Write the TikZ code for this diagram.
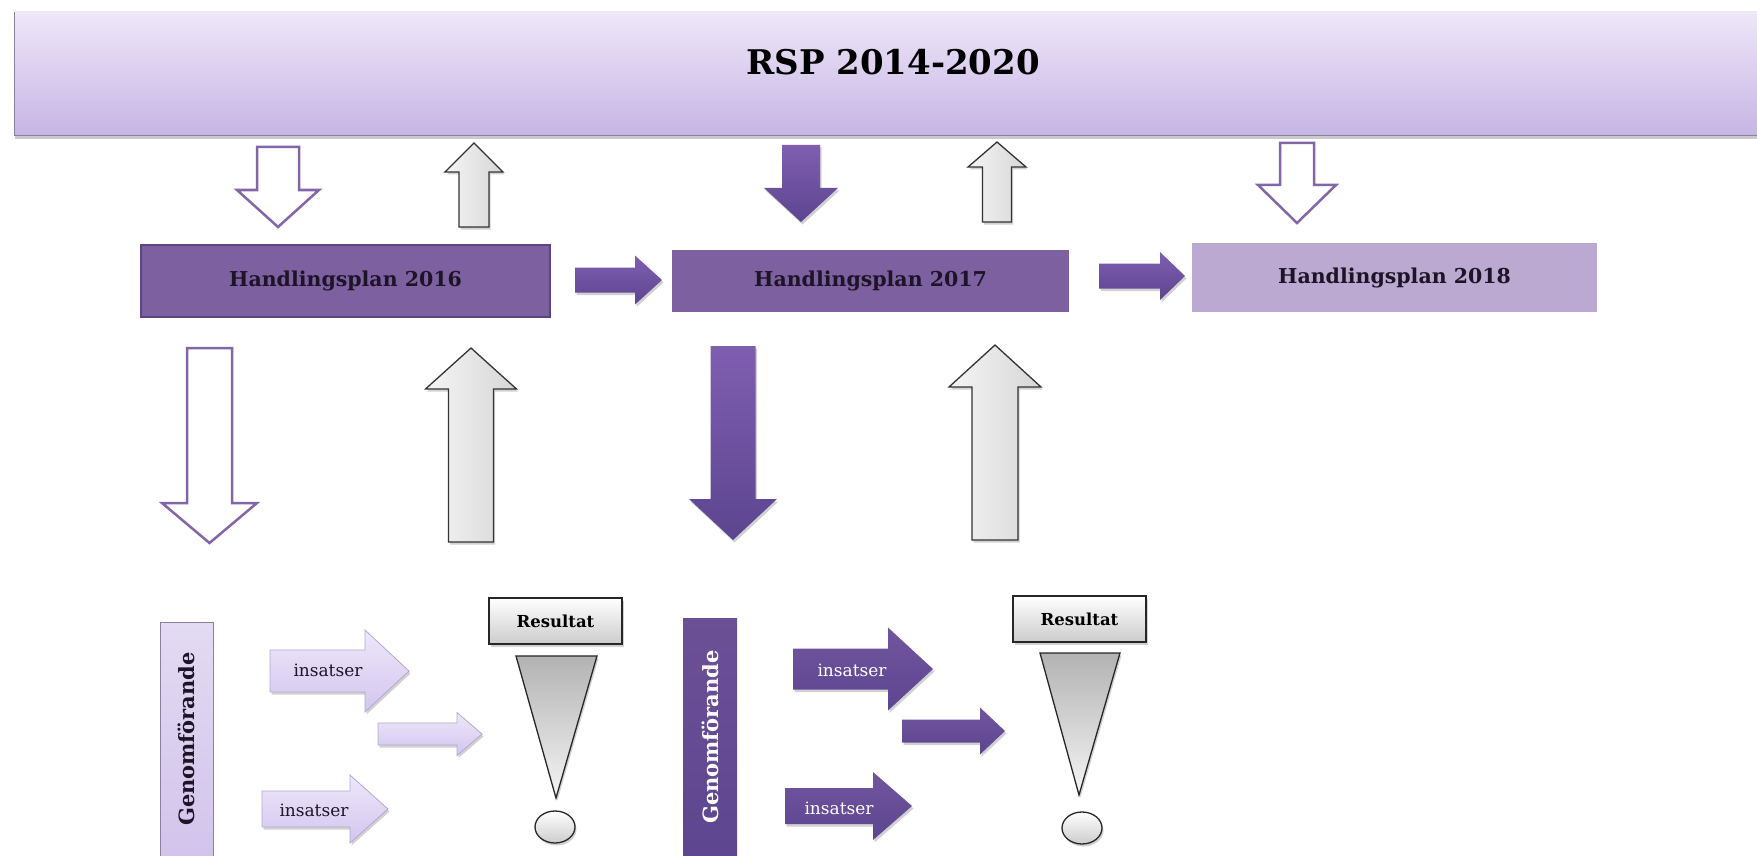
\documentclass[tikz,border=0pt]{standalone}
\usepackage{fontspec}
\setmainfont{DejaVu Serif}
\usetikzlibrary{shadows}

\definecolor{bannertop}{HTML}{EEE7F8}
\definecolor{bannerbot}{HTML}{C7B5E5}
\definecolor{banneredge}{HTML}{8C80A0}
\definecolor{planfill}{HTML}{7C60A0}
\definecolor{planedge}{HTML}{5A4484}
\definecolor{planlight}{HTML}{BBA9D1}
\definecolor{plantext}{HTML}{1E1428}
\definecolor{outline}{HTML}{8266A8}
\definecolor{purptop}{HTML}{7F5EB0}
\definecolor{purpbot}{HTML}{5C4590}
\definecolor{lilatop}{HTML}{EEE7FA}
\definecolor{lilabot}{HTML}{D3C5EE}
\definecolor{lilaedge}{HTML}{B5A6CF}
\definecolor{gentop}{HTML}{E3DAF3}
\definecolor{genbot}{HTML}{D0C2EA}

% block arrows: [style]{x}{y tail}{y head base}{y tip}{shaft}{head}
\newcommand{\varrow}[7][]{%
  \draw[#1] ({#2-#6/2},#3) -- ({#2-#6/2},#4) -- ({#2-#7/2},#4) -- (#2,#5)
    -- ({#2+#7/2},#4) -- ({#2+#6/2},#4) -- ({#2+#6/2},#3) -- cycle;}
% [style]{y}{x tail}{x head base}{x tip}{shaft}{head}
\newcommand{\harrow}[7][]{%
  \draw[#1] (#3,{#2-#6/2}) -- (#4,{#2-#6/2}) -- (#4,{#2-#7/2}) -- (#5,#2)
    -- (#4,{#2+#7/2}) -- (#4,{#2+#6/2}) -- (#3,{#2+#6/2}) -- cycle;}

\begin{document}
\begin{tikzpicture}[x=1pt,y=-1pt,
    softshadow/.style={drop shadow={shadow xshift=1.5pt,shadow yshift=-2.5pt,opacity=.3,fill=black!60}},
    plan/.style={inner sep=0pt,font=\bfseries\fontsize{20.5}{24}\selectfont,text=plantext},
    outarrow/.style={draw=outline,line width=2.5pt,fill=white},
    greyarrow/.style={draw=black!80,line width=1.3pt,left color=gray!8,right color=gray!32,softshadow},
    purparrow/.style={top color=purptop,bottom color=purpbot,draw=none,softshadow},
    lightarrow/.style={top color=lilatop,bottom color=lilabot,draw=lilaedge,line width=.8pt,softshadow},
    darkarrow/.style={top color=purptop!90!black,bottom color=purpbot,draw=none,softshadow},
    grey3d/.style={top color=white,bottom color=gray!40,draw=black!85,line width=1.3pt,softshadow},
    result/.style={grey3d,inner sep=0pt,minimum width=133pt,minimum height=46pt,font=\bfseries\fontsize{16.5}{20}\selectfont},
    ins/.style={inner sep=0pt,font=\fontsize{17}{20}\selectfont},
    gentext/.style={rotate=90,inner sep=0pt,font=\bfseries\fontsize{21}{24}\selectfont}]
  \useasboundingbox (0,0) rectangle (1757,856);

  % RSP banner
  \node[top color=bannertop,bottom color=bannerbot,minimum width=1755pt,minimum height=123pt,
        drop shadow={shadow xshift=0pt,shadow yshift=-4pt,opacity=.35,fill=black!60}] (rsp) at (892.5,73.5) {};
  \draw[banneredge,line width=1.3pt] (rsp.north west) -- (rsp.south west) -- (rsp.south east);
  \node[font=\bfseries\fontsize{34}{38}\selectfont] (rsptext) at (893,62) {RSP 2014-2020};

  % handlingsplaner
  \node[plan,fill=planfill,draw=planedge,line width=1.5pt,minimum width=409pt,minimum height=72pt] (plan16) at (345.5,281) {Handlingsplan 2016};
  \node[plan,fill=planfill,draw=white,line width=6pt,minimum width=403pt,minimum height=68pt,
        drop shadow={shadow xshift=2pt,shadow yshift=-3pt,opacity=.4,fill=black!50}] (plan17) at (870.5,281) {Handlingsplan 2017};
  \node[plan,fill=planlight,minimum width=405pt,minimum height=69pt] (plan18) at (1394.5,277.5) {Handlingsplan 2018};

  % arrows to and from the banner
  \varrow[outarrow]{278}{147}{190}{227}{42}{82}
  \varrow[greyarrow]{474}{227}{172}{143}{30}{58}
  \varrow[purparrow]{801}{145}{188}{222}{38}{74}
  \varrow[greyarrow]{997}{222}{167}{142}{29}{58}
  \varrow[outarrow]{1297}{143}{185}{223}{34}{78}

  % plan to plan
  \harrow[purparrow]{280}{575}{635}{662}{25}{49}
  \harrow[purparrow]{276}{1099}{1160}{1185}{25}{48}

  % arrows down to the work and back up
  \varrow[outarrow]{209.5}{348}{503}{543}{45}{95}
  \varrow[greyarrow]{471}{542}{389}{348}{45}{91}
  \varrow[purparrow]{733}{346}{499}{540}{45}{88}
  \varrow[greyarrow]{995}{540}{387}{345}{46}{92}

  % genomforande 2016
  \node[top color=gentop,bottom color=genbot,draw=banneredge,line width=1pt,minimum width=53pt,minimum height=258pt] (gen1) at (186.5,751) {};
  \node[gentext,text=plantext] (gen1text) at (186.5,739) {Genomförande};
  \harrow[lightarrow]{671}{270}{365}{409}{42}{82}
  \harrow[lightarrow]{734}{378}{457}{482}{22}{43}
  \harrow[lightarrow]{809}{262}{350}{388}{36}{68}
  \node[ins,text=plantext] (ins1a) at (328,670) {insatser};
  \node[ins,text=plantext] (ins1b) at (314,810) {insatser};
  \node[result] (res1) at (555.5,621) {Resultat};
  \draw[top color=gray!60,bottom color=gray!8,draw=black!85,line width=1.3pt,softshadow] (516,656) -- (597,656) -- (556,798) -- cycle;
  \draw[grey3d] (555,827) ellipse [x radius=20,y radius=16];

  % genomforande 2017
  \node[top color=purptop!85!black,bottom color=purpbot,minimum width=54pt,minimum height=262pt] (gen2) at (710,749) {};
  \node[gentext,text=white] (gen2text) at (710,737) {Genomförande};
  \harrow[darkarrow]{669}{793}{888}{933}{41}{83}
  \harrow[darkarrow]{731}{902}{980}{1005}{23}{47}
  \harrow[darkarrow]{806}{785}{873}{912}{36}{68}
  \node[ins,text=white] (ins2a) at (852,670) {insatser};
  \node[ins,text=white] (ins2b) at (839,808) {insatser};
  \node[result] (res2) at (1079.5,619) {Resultat};
  \draw[top color=gray!60,bottom color=gray!8,draw=black!85,line width=1.3pt,softshadow] (1040,653) -- (1120,653) -- (1079,795) -- cycle;
  \draw[grey3d] (1082,828) ellipse [x radius=20,y radius=16];
\end{tikzpicture}
\end{document}
